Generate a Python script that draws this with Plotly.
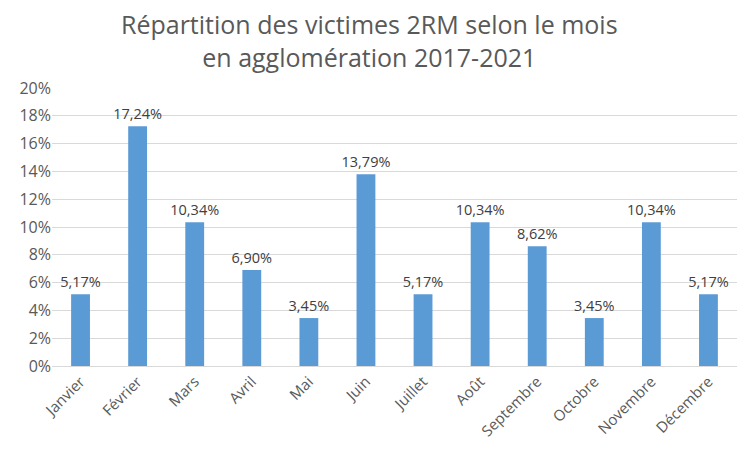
import plotly.graph_objects as go

mois = ["Janvier", "Février", "Mars", "Avril", "Mai", "Juin", "Juillet",
        "Août", "Septembre", "Octobre", "Novembre", "Décembre"]
parts = [5.17, 17.24, 10.34, 6.90, 3.45, 13.79, 5.17, 10.34, 8.62, 3.45, 10.34, 5.17]
tick_vals = [0, 2, 4, 6, 8, 10, 12, 14, 16, 18, 20]
tick_text = [f"{v}%" for v in tick_vals]

labels = [f"{v:.2f}".replace(".", ",") + "%" for v in parts]
FONT = "Open Sans, Liberation Sans, sans-serif"

fig = go.Figure(go.Bar(
    x=mois, y=parts,
    marker=dict(color="#5b9bd5", line=dict(width=0)),
    text=labels, textposition="outside", cliponaxis=False,
    constraintext="none",
    textfont=dict(family=FONT, size=14.5, color="#404040"),
))

fig.update_layout(
    width=737, height=450,
    margin=dict(l=52, r=0, t=88, b=84),
    paper_bgcolor="white", plot_bgcolor="white",
    bargap=0.67,
    showlegend=False,
    font=dict(family=FONT, color="#595959"),
)
fig.add_annotation(
    text="Répartition des victimes 2RM selon le mois<br>en agglomération 2017-2021",
    xref="paper", yref="paper", x=0.463, y=1.0, yshift=12,
    xanchor="center", yanchor="bottom", showarrow=False,
    font=dict(family=FONT, size=25, color="#595959"),
)
fig.update_xaxes(
    tickangle=-45, tickfont=dict(size=15, color="#595959"),
    showline=True, linecolor="#d9d9d9", linewidth=1, ticks="",
)
fig.update_yaxes(
    range=[0, 20], tickvals=tick_vals, ticktext=tick_text,
    tickfont=dict(size=16, color="#595959"),
    showgrid=True, gridcolor="#d9d9d9", gridwidth=1, zeroline=False,
    ticks="", ticklen=0,
)

fig.write_html("out.html")
